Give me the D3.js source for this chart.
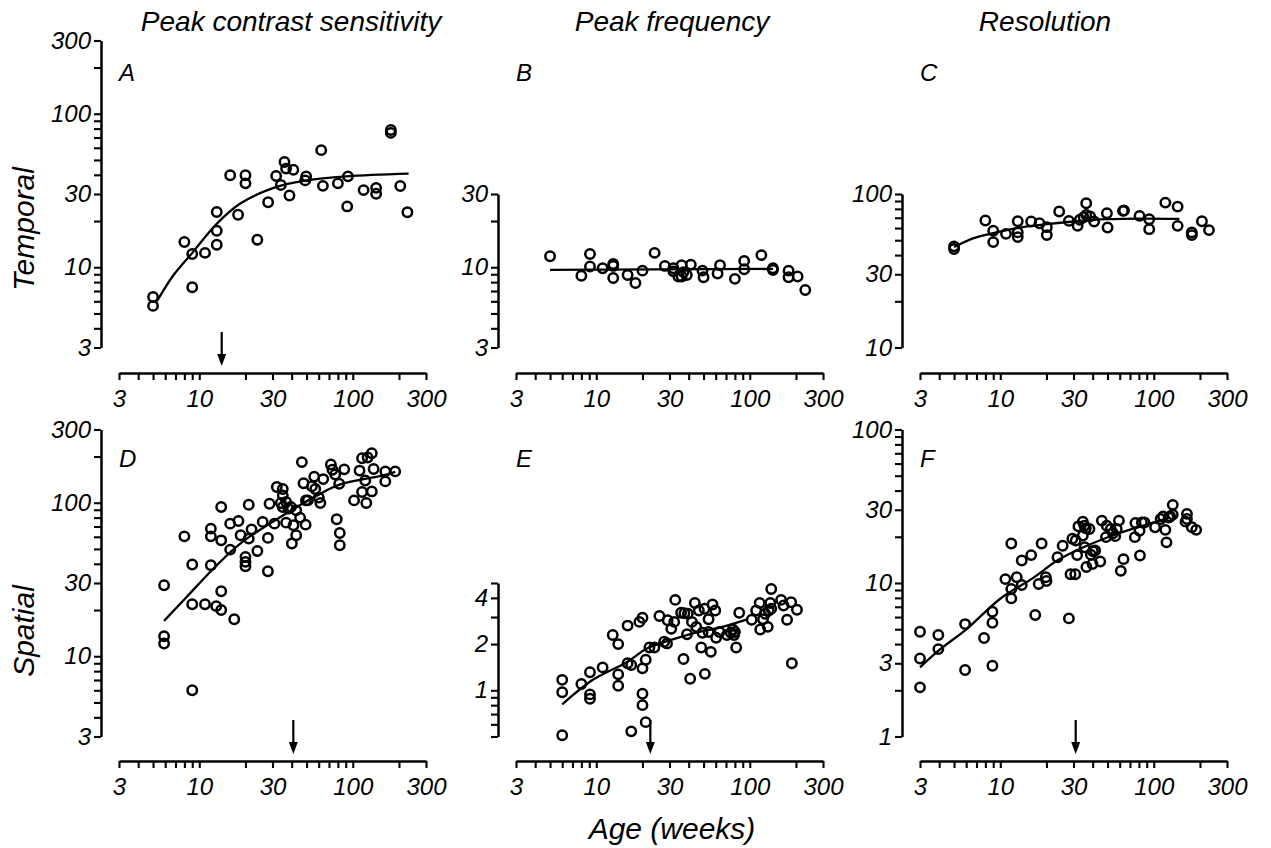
<!doctype html>
<html>
<head>
<meta charset="utf-8">
<title>Development of temporal and spatial vision</title>
<script src="https://cdn.jsdelivr.net/npm/d3@7"></script>
<style>
    body { margin: 0; background: #fff; }
    svg text { font-family: "Liberation Sans", Arial, Helvetica, sans-serif; font-style: italic; fill: #000; }
</style>
</head>
<body>
<svg width="1271" height="848"></svg>
<script>
// ---- data: [age in weeks, value] ----
var tempCS = [[5,6.4],[5,5.6],[8,14.6],[9,12.2],[9,7.4],[10.9,12.4],[13,22.9],[13,17.3],[13,14.0],[15.9,39.7],
    [17.9,22],[20,39.7],[20,35.2],[23.9,15.1],[28.1,26.5],[31.7,39.3],[34,34.3],[35.9,48.5],[36.8,43.9],[41,43.2],
    [38.7,29.3],[49.7,39.1],[49,36.8],[62.3,57.9],[63.9,33.9],[80,35.2],[93,39.1],[92,24.9],[117.6,31.8],[142,32.9],
    [142,30.1],[177,78.4],[177,75],[204,33.8],[227,22.8]];
var tempCSFit = [[5.3,6.0],[6.8,8.9],[9,12.4],[13,19.2],[18.5,26],[30.5,32.9],[50,36.8],[92,39.1],[231,40.7]];

var tempPF = [[5,11.8],[8,8.8],[9.1,12.2],[9.1,10.1],[11,9.85],[12.9,10.5],[12.9,10.2],[12.9,8.5],[16,8.9],[18,7.9],
    [20,9.5],[24,12.4],[28,10.2],[31.8,9.85],[31.8,9.4],[34.3,8.7],[36,10.3],[36,8.7],[37,9.3],[38.9,8.9],[41.3,10.4],
    [49.2,9.5],[50,8.6],[61.7,9.1],[64,10.3],[80,8.4],[92,11],[92,9.7],[119,12],[141.6,9.85],[141.6,9.6],[179,9.5],
    [179,8.6],[205,8.7],[230,7.1]];
var tempPFFit = [[5,9.6],[142,9.75]];

var tempRes = [[5,45.6],[5,43.8],[8,67.2],[9,57.6],[9,48.6],[10.9,55],[13,66.5],[13,56.2],[13,52.4],[15.9,66.2],
    [18,64.5],[20.1,60.8],[20.1,54],[24.2,76.9],[28,66.8],[31.9,62],[33,67.9],[34.9,70.6],[36.3,87],[36.3,73.1],
    [38.5,71.5],[40.9,66.2],[49.5,75],[50,60.5],[63,77.6],[64,78],[80.8,72],[93.4,68.5],[93.4,59],[119,87.9],
    [143,82.8],[143,62],[177,56.2],[177,54],[206,66.5],[229,58.2]];
var tempResFit = [[5,45.1],[6.7,51.6],[9,55.6],[12.8,60],[20.1,63.6],[30,66.2],[49.5,68.5],[81.6,69.2],[147,68.9]];

var spatCS = [[5.9,29],[5.9,13.5],[5.9,12.1],[8,60.4],[9,39.6],[9,21.8],[9,6.0],[10.9,21.8],[11.9,67.8],[11.9,60.4],
    [11.9,39.2],[12.9,21.2],[13.9,93.8],[13.9,56.9],[13.9,26.5],[13.9,20],[15.9,49.5],[15.9,73.1],[16.9,17.4],[18,76],
    [18.6,61.4],[20,44.4],[20,41.2],[20,38.6],[21,97.1],[21,58.4],[21.9,67.1],[23.9,48.5],[25.9,75],[28,35.8],[28,59],
    [28.7,98.6],[30.9,73.1],[32,126.5],[34,99.6],[35,122.8],[35,111.7],[35,93.8],[36.8,101],[36.8,74.2],[38.1,91.5],
    [39.5,93.8],[40.1,54.2],[41.1,71.3],[42.8,61.4],[42.8,89.2],[45.4,80],[46.6,184],[47.8,134],[49.5,103.6],
    [51,103.6],[49.3,72],[56.1,148],[54.2,128],[57,122.8],[60.1,108],[61.5,99.6],[64.2,142.6],[72,177.5],[73.7,164],
    [76.9,152.8],[78.6,78],[81.6,133],[82.3,63.5],[82.3,52.8],[88,165],[102,103.6],[110.7,162],[115,195],[115,117.4],
    [120.6,139.7],[122.5,99.6],[125,197],[133,210],[133,118.5],[136.7,166],[163,160],[163,137.7],[189,160]];
var spatCSFit = [[5.9,17],[8.3,24.4],[12.4,37.3],[18.5,54.2],[33.6,80.4],[58.7,111.7],[82.8,131.6],[158,150.7],[189,159]];

var spatPF = [[6,1.17],[6,0.97],[6,0.51],[8,1.1],[9.1,1.31],[9.1,0.94],[9.1,0.88],[11,1.41],[12.8,2.29],[13.9,2.0],
    [13.9,1.27],[13.9,1.07],[16,2.64],[16,1.5],[16.9,1.46],[16.9,0.54],[19.1,2.79],[20,2.97],[20,1.39],[20,0.95],
    [20,0.8],[21,1.58],[21,0.62],[22.2,1.9],[23.9,1.9],[25.8,3.05],[27.7,2.07],[28.9,2.02],[29.2,2.86],[30.8,2.52],
    [32.2,2.79],[32.7,3.88],[35.7,3.2],[37.5,3.18],[37,1.6],[39.5,3.15],[40.9,1.19],[39,2.32],[42,2.79],[43.9,3.7],
    [44.8,2.59],[46.6,3.31],[48.3,1.9],[49.2,2.37],[50.7,3.4],[51,1.28],[53.9,2.9],[53.9,2.4],[55.8,1.78],[57.2,3.62],
    [59.6,3.31],[60.4,2.2],[63.5,2.4],[71,2.29],[75.3,2.37],[77.6,2.49],[79,2.29],[81.6,1.9],[80,2.4],[85.4,3.2],
    [103,2.88],[110,3.31],[116,3.7],[117,2.49],[122,2.9],[126,3.15],[131,2.59],[133,3.31],[136,3.7],[138,4.57],
    [138,3.4],[160,3.88],[166,3.57],[175,2.88],[186,3.75],[188,1.5],[203,3.35]];
var spatPFFit = [[6,0.81],[9.5,1.17],[15.9,1.53],[21.5,1.88],[30.3,2.12],[42.8,2.35],[64.2,2.57],[96.3,2.9]];

var spatRes = [[3,4.81],[3,3.22],[3,2.09],[3.95,4.58],[3.95,3.71],[5.9,5.4],[5.9,2.71],[7.84,4.38],[8.89,6.5],
    [8.89,5.51],[8.89,2.89],[10.8,10.6],[11.8,18.1],[11.8,9.14],[11.8,7.94],[12.8,10.9],[13.8,14],[13.8,9.7],
    [15.9,15.2],[16.9,6.19],[17.8,9.85],[18.6,18.1],[19.8,10.9],[20,10.3],[23.6,14.7],[25.5,17.5],[28,5.88],
    [28.7,11.4],[30.8,11.4],[29.5,19.4],[31,18.9],[31.7,15.2],[32.3,23.4],[34.5,25.1],[34.5,20.4],[35.3,23.6],
    [36.1,22.7],[36.4,12.7],[35.5,17.1],[38.1,22.5],[38.9,15.3],[40.1,16.1],[41.5,16.3],[39.9,13.3],[44.8,13.8],
    [45.9,25.5],[48.8,19.9],[49.4,23.6],[52.5,22.5],[54.2,21.1],[56.1,20.2],[57.4,22.5],[59.3,25.5],[61,12],
    [63.5,14.3],[75.3,19.9],[76,24.6],[80.8,21.9],[81.3,15.1],[83.7,24.8],[87,24.8],[102,23.1],[111,26.1],[115,27.1],
    [119,22.2],[121,18.4],[125,26.7],[128,27.1],[133,32.3],[133,27.9],[164.5,28.2],[164.5,26.1],[161,25.1],
    [177,23.1],[189,22.2]];
var spatResFit = [[3,2.82],[4.05,3.69],[6.04,5.01],[10,7.9],[16.4,10.8],[23.5,14],[33.1,16.7],[49.7,19.8],[73.5,22.6],[115,25.9]];

// tick labels
var ageLabels = [3, 10, 30, 100, 300];
var colTitles = ["Peak contrast sensitivity", "Peak frequency", "Resolution"];
var rowTitles = ["Temporal", "Spatial"];

var panels = [
    { id: "A", col: 0, row: 0, pts: tempCS,  fit: tempCSFit,  yDom: [3, 300], yLab: [3, 10, 30, 100, 300], arrow: 14 },
    { id: "B", col: 1, row: 0, pts: tempPF,  fit: tempPFFit,  yDom: [3, 30],  yLab: [3, 10, 30] },
    { id: "C", col: 2, row: 0, pts: tempRes, fit: tempResFit, yDom: [10, 100], yLab: [10, 30, 100] },
    { id: "D", col: 0, row: 1, pts: spatCS,  fit: spatCSFit,  yDom: [3, 300], yLab: [3, 10, 30, 100, 300], arrow: 41 },
    { id: "E", col: 1, row: 1, pts: spatPF,  fit: spatPFFit,  yDom: [0.5, 5], yLab: [1, 2, 4], arrow: 22.5 },
    { id: "F", col: 2, row: 1, pts: spatRes, fit: spatResFit, yDom: [1, 100], yLab: [1, 3, 10, 30, 100], arrow: 31 }
];

var svg = d3.select("svg");
var colOff = [0, 397, 801],
    rowBottom = [347.5, 736.5],
    rowAxis = [373, 761],
    perDecade = 153.5,
    fontSize = 24;

// all log ticks (1..9 x 10^k) inside a domain
function logTicks(dom) {
    var out = [];
    for (var e = -1; e <= 3; e++) {
        for (var m = 1; m <= 9; m++) {
            var v = +(m * Math.pow(10, e)).toPrecision(3);
            if (v >= dom[0] - 1e-9 && v <= dom[1] + 1e-9) out.push(v);
        }
    }
    return out;
}

function styleAxis(g) {
    g.select(".domain").attr("stroke", "#000").attr("stroke-width", 2.5);
    g.selectAll(".tick line").attr("stroke", "#000").attr("stroke-width", 2.1);
    g.selectAll("text").attr("font-size", fontSize).attr("font-family", null).attr("fill", "#000");
}

panels.forEach(function(p) {
    var ox = colOff[p.col];
    var bottom = rowBottom[p.row];
    var x = d3.scaleLog().domain([3, 300]).range([119 + ox, 426 + ox]);
    var y = d3.scaleLog().domain(p.yDom)
        .range([bottom, bottom - perDecade * Math.log10(p.yDom[1] / p.yDom[0])]);

    var g = svg.append("g");

    // x axis
    g.append("g")
        .attr("transform", "translate(0," + rowAxis[p.row] + ")")
        .call(d3.axisBottom(x).tickValues(logTicks([3, 300])).tickSize(7).tickSizeOuter(0).tickPadding(10)
            .tickFormat(function(d) { return ageLabels.indexOf(d) >= 0 ? d : ""; }))
        .call(styleAxis);

    // y axis
    g.append("g")
        .attr("transform", "translate(" + (101 + ox) + ",0)")
        .call(d3.axisLeft(y).tickValues(logTicks(p.yDom)).tickSize(7).tickSizeOuter(0).tickPadding(3)
            .tickFormat(function(d) { return p.yLab.indexOf(d) >= 0 ? d : ""; }))
        .call(styleAxis);

    // fitted curve
    g.append("path")
        .datum(p.fit)
        .attr("fill", "none")
        .attr("stroke", "#000")
        .attr("stroke-width", 2.3)
        .attr("d", d3.line()
            .x(function(d) { return x(d[0]); })
            .y(function(d) { return y(d[1]); })
            .curve(d3.curveCatmullRom.alpha(0.5)));

    // data points
    g.append("g")
        .selectAll("circle")
        .data(p.pts)
        .enter().append("circle")
        .attr("cx", function(d) { return x(d[0]); })
        .attr("cy", function(d) { return y(d[1]); })
        .attr("r", 4.7)
        .attr("fill", "none")
        .attr("stroke", "#000")
        .attr("stroke-width", 2.5);

    // arrow marking the age where the fit reaches its knee
    if (p.arrow) {
        var ax = x(p.arrow), tip = rowAxis[p.row] - 7;
        g.append("line")
            .attr("x1", ax).attr("x2", ax)
            .attr("y1", tip - 34).attr("y2", tip - 8)
            .attr("stroke", "#000").attr("stroke-width", 2.2);
        g.append("path")
            .attr("d", "M" + (ax - 4.5) + "," + (tip - 12) + "L" + (ax + 4.5) + "," + (tip - 12) + "L" + ax + "," + tip + "Z")
            .attr("fill", "#000");
    }

    // panel letter
    g.append("text")
        .attr("x", 119 + ox)
        .attr("y", p.row ? 467 : 81)
        .attr("font-size", 24)
        .text(p.id);
});

// column titles
svg.selectAll(".ctitle")
    .data(colTitles)
    .enter().append("text")
    .attr("class", "ctitle")
    .attr("x", function(d, i) { return [291, 672, 1045][i]; })
    .attr("y", 31)
    .attr("text-anchor", "middle")
    .attr("font-size", 28)
    .text(function(d) { return d; });

// row titles
svg.selectAll(".rtitle")
    .data(rowTitles)
    .enter().append("text")
    .attr("class", "rtitle")
    .attr("transform", function(d, i) { return "translate(34," + [229, 631][i] + ") rotate(-90)"; })
    .attr("text-anchor", "middle")
    .attr("font-size", 30)
    .text(function(d) { return d; });

svg.append("text")
    .attr("x", 672)
    .attr("y", 839)
    .attr("text-anchor", "middle")
    .attr("font-size", 30)
    .text("Age (weeks)");
</script>
</body>
</html>
